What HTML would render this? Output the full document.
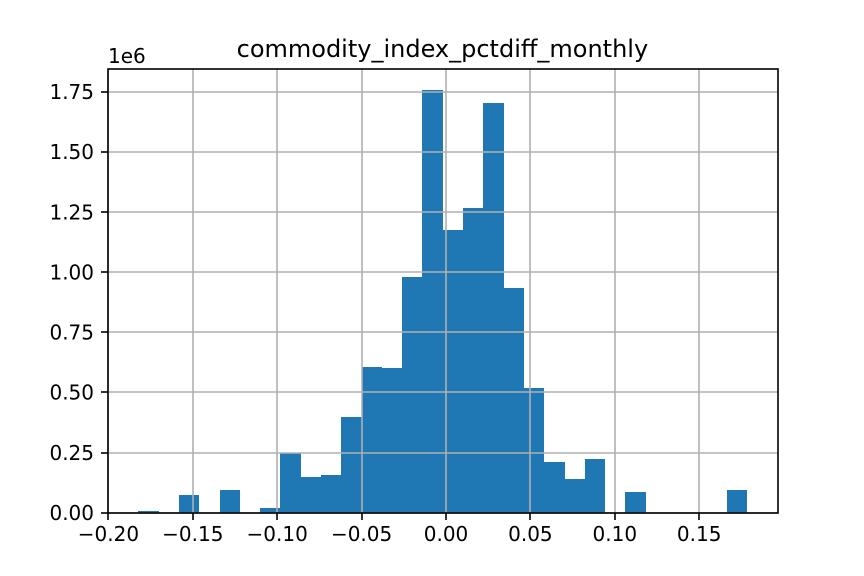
<!DOCTYPE html>
<html>
<head>
<meta charset="utf-8">
<style>
html,body{margin:0;padding:0;background:#fff;width:864px;height:576px;overflow:hidden}
svg{display:block}
text{font-family:"DejaVu Sans","Liberation Sans",sans-serif;fill:#000}
</style>
</head>
<body>
<svg id="chart" width="864" height="576" viewBox="0 0 864 576" xmlns="http://www.w3.org/2000/svg">
  <rect x="0" y="0" width="864" height="576" fill="#fff"/>
  <g id="bars" shape-rendering="crispEdges"></g>
  <g id="grid"></g>
  <g id="ticks"></g>
  <rect x="108" y="69" width="670" height="444" fill="none" stroke="#000" stroke-width="1.6"/>
  <text x="442.4" y="57" font-size="24" text-anchor="middle">commodity_index_pctdiff_monthly</text>
  <text x="108" y="63" font-size="20">1e6</text>
</svg>
<script>
const binStart = -0.182257;
const binWidth = 0.0120231;
const counts = [0.007,0,0.073,0,0.094,0,0.019,0.248,0.148,0.156,0.397,0.605,0.60,0.98,1.757,1.175,1.265,1.703,0.935,0.52,0.21,0.14,0.223,0,0.086,0,0,0,0,0.094];
const xTicks = [-0.20,-0.15,-0.10,-0.05,0.00,0.05,0.10,0.15];
const yTicks = [0,0.25,0.50,0.75,1.00,1.25,1.50,1.75];

const NS = 'http://www.w3.org/2000/svg';
const plotLeft = 108, plotRight = 778, plotTop = 69, plotBottom = 513;
function xScale(v){ return 446 + 1688 * v; }
function yScale(v){ return 512.7 - 240.6 * v; }
function fmt(v){ return v.toFixed(2).replace('-', '\u2212'); }

const barsGroup = document.getElementById('bars');
const gridGroup = document.getElementById('grid');
const ticksGroup = document.getElementById('ticks');

counts.forEach(function(c, i){
  if (c <= 0) return;
  const x0 = Math.round(xScale(binStart + i * binWidth));
  const x1 = Math.round(xScale(binStart + (i + 1) * binWidth));
  const top = Math.round(yScale(c));
  const r = document.createElementNS(NS, 'rect');
  r.setAttribute('x', x0);
  r.setAttribute('y', top);
  r.setAttribute('width', x1 - x0);
  r.setAttribute('height', 513 - top);
  r.setAttribute('fill', '#1f77b4');
  
  
  barsGroup.appendChild(r);
});

function addLine(group, x1, y1, x2, y2, color){
  const l = document.createElementNS(NS, 'line');
  l.setAttribute('x1', x1);
  l.setAttribute('y1', y1);
  l.setAttribute('x2', x2);
  l.setAttribute('y2', y2);
  l.setAttribute('stroke', color);
  l.setAttribute('stroke-width', '1.6');
  group.appendChild(l);
  return l;
}

xTicks.forEach(function(v){
  const x = Math.round(xScale(v));
  const g = addLine(gridGroup, x, plotTop, x, plotBottom, '#b0b0b0');
  
  
  const t = addLine(ticksGroup, x, plotBottom, x, plotBottom + 7, '#000');
  
  
  const label = document.createElementNS(NS, 'text');
  label.setAttribute('x', xScale(v));
  label.setAttribute('y', 541.2);
  label.setAttribute('font-size', '20');
  label.setAttribute('text-anchor', 'middle');
  
  
  label.textContent = fmt(v);
  ticksGroup.appendChild(label);
});

yTicks.forEach(function(v){
  const y = Math.round(yScale(v));
  const g = addLine(gridGroup, plotLeft, y, plotRight, y, '#b0b0b0');
  
  
  const t = addLine(ticksGroup, plotLeft - 7, y, plotLeft, y, '#000');
  
  
  const label = document.createElementNS(NS, 'text');
  label.setAttribute('x', plotLeft - 14);
  label.setAttribute('y', yScale(v) + 7.3);
  label.setAttribute('font-size', '20');
  label.setAttribute('text-anchor', 'end');
  
  
  label.textContent = fmt(v);
  ticksGroup.appendChild(label);
});
</script>
</body>
</html>
